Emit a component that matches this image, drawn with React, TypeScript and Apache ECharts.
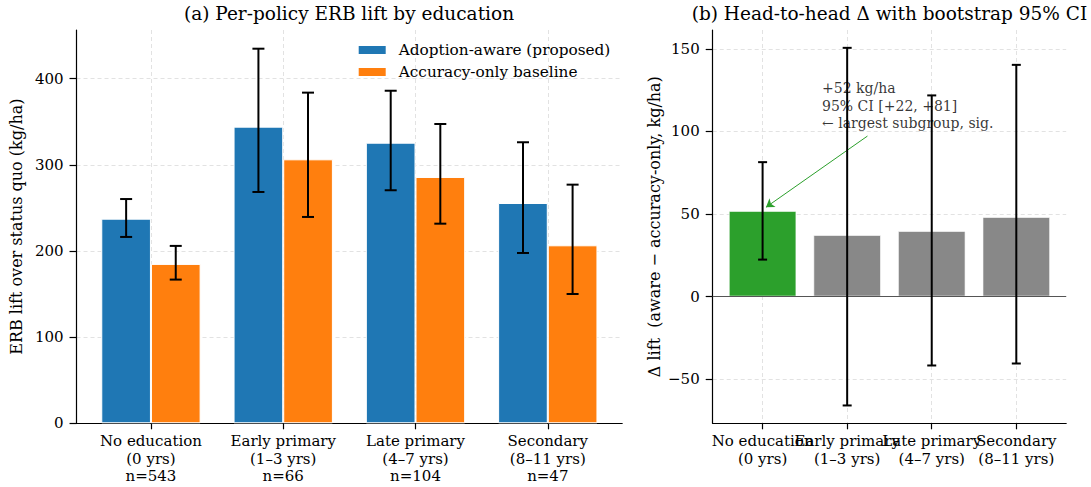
import React, { useEffect, useRef } from 'react';
import * as echarts from 'echarts';

// ---------- data ----------
const leftCategories = ['No education\n(0 yrs)\nn=543', 'Early primary\n(1–3 yrs)\nn=66', 'Late primary\n(4–7 yrs)\nn=104', 'Secondary\n(8–11 yrs)\nn=47'];
const rightCategories = ['No education\n(0 yrs)', 'Early primary\n(1–3 yrs)', 'Late primary\n(4–7 yrs)', 'Secondary\n(8–11 yrs)'];
const categoryIndex = [0, 1, 2, 3];
const evenIndex = [0, 2];
const oddIndex = [1, 3];

const awareLift = [237.5, 344.3, 325.7, 255.7];
const awareLo = [216.3, 268.5, 270.5, 197.7];
const awareHi = [260.3, 434.8, 386.0, 326.2];
const baselineLift = [185.0, 306.4, 285.9, 206.6];
const baselineLo = [166.8, 239.5, 231.7, 150.1];
const baselineHi = [205.9, 383.8, 347.4, 277.0];

const deltaLift = [51.9, 37.3, 39.7, 48.2];
const deltaLo = [22.4, -65.9, -41.7, -40.5];
const deltaHi = [81.4, 150.6, 121.8, 140.3];

const leftYTicks = [0, 100, 200, 300, 400];
const rightYTicks = [-50, 0, 50, 100, 150];

const seriesNames = ['Adoption-aware (proposed)', 'Accuracy-only baseline'];
const annotationAnchor = [0.703, 115.5];
const arrowFrom = [1.24, 97.2];
const arrowTo = [0.04, 54.1];
const annotationLines = [
  `+${Math.round(deltaLift[0])} kg/ha`,
  `95% CI [+${Math.round(deltaLo[0])}, +${Math.round(deltaHi[0])}]`,
  '← largest subgroup, sig.',
];

// ---------- layout / style ----------
const FONT = "'DejaVu Serif', serif";
const L = { left: 75.8, top: 30, width: 546.4, height: 393.3, xmin: -0.5625, xmax: 3.5625, ymin: 0, ymax: 456.5 };
const R = { left: 712.7, top: 30, width: 353.5, height: 393.3, xmin: -0.59, xmax: 3.59, ymin: -76.7, ymax: 161.4 };
const LEFT_BAR_UNITS = 0.375;
const RIGHT_BAR_UNITS = 0.8;
const leftBarPx = (LEFT_BAR_UNITS * L.width) / (L.xmax - L.xmin);
const rightBarPx = (RIGHT_BAR_UNITS * R.width) / (R.xmax - R.xmin);

const gridLine = { show: true, lineStyle: { color: '#e2e2e2', width: 1, type: [4, 3] as any } };
const spine = { show: true, onZero: false, lineStyle: { color: '#000', width: 1.2 } };
const tickStyle = (len: number, custom?: number[]) => ({
  show: true, length: len, customValues: custom, lineStyle: { color: '#000', width: 1.2 },
});
const fmtMinus = (v: number) => (v < 0 ? '\u2212' + Math.abs(v) : String(v));
const labelBase = { color: '#000', fontFamily: FONT, showMinLabel: true, showMaxLabel: true, hideOverlap: false };

function errorRenderer(capHalf: number) {
  return (params: any, api: any) => {
    const x = api.value(0);
    const lo = api.coord([x, api.value(1)]);
    const hi = api.coord([x, api.value(2)]);
    const st = { stroke: '#000', lineWidth: 2 };
    return {
      type: 'group',
      children: [
        { type: 'line', shape: { x1: lo[0], y1: lo[1], x2: hi[0], y2: hi[1] }, style: st },
        { type: 'line', shape: { x1: lo[0] - capHalf, y1: lo[1], x2: lo[0] + capHalf, y2: lo[1] }, style: st },
        { type: 'line', shape: { x1: hi[0] - capHalf, y1: hi[1], x2: hi[0] + capHalf, y2: hi[1] }, style: st },
      ],
    };
  };
}

export default function App() {
  const ref = useRef<HTMLDivElement>(null);
  useEffect(() => {
    const chart = echarts.init(ref.current!, null, { renderer: 'svg' });
    const off = LEFT_BAR_UNITS / 2;
    const leftErr = [
      ...categoryIndex.map((i) => [i - off, awareLo[i], awareHi[i]]),
      ...categoryIndex.map((i) => [i + off, baselineLo[i], baselineHi[i]]),
    ];
    const rightErr = categoryIndex.map((i) => [i, deltaLo[i], deltaHi[i]]);
    const rightLabel = (custom: number[]) => ({
      ...labelBase, customValues: custom, formatter: (v: number) => rightCategories[Math.round(v)],
      fontSize: 15, lineHeight: 17.5, margin: 9,
    });

    const option: any = {
      animation: false,
      backgroundColor: '#fff',
      textStyle: { fontFamily: FONT },
      graphic: [
        { type: 'text', x: L.left + L.width / 2, y: 13.5, style: { text: '(a) Per-policy ERB lift by education', align: 'center', verticalAlign: 'middle', fontSize: 18.5, fontFamily: FONT, fill: '#000' } },
        { type: 'text', x: R.left + R.width / 2, y: 13.5, style: { text: '(b) Head-to-head Δ with bootstrap 95% CI', align: 'center', verticalAlign: 'middle', fontSize: 18.5, fontFamily: FONT, fill: '#000' } },
      ],
      legend: {
        data: seriesNames,
        orient: 'vertical',
        left: 356.7,
        top: 42,
        padding: 0,
        itemWidth: 29,
        itemHeight: 10,
        itemGap: 6,
        icon: 'rect',
        textStyle: { fontSize: 15.3, lineHeight: 16, fontFamily: FONT, color: '#000', padding: [0, 0, 0, 7] },
      },
      grid: [
        { left: L.left, top: L.top, width: L.width, height: L.height },
        { left: R.left, top: R.top, width: R.width, height: R.height },
      ],
      xAxis: [
        {
          type: 'value', gridIndex: 0, position: 'bottom', min: L.xmin, max: L.xmax,
          axisLine: spine, axisTick: tickStyle(6, categoryIndex),
          axisLabel: { ...labelBase, customValues: categoryIndex, formatter: (v: number) => leftCategories[Math.round(v)], fontSize: 15, lineHeight: 17.5, margin: 9 },
          splitLine: gridLine,
        },
        {
          type: 'value', gridIndex: 1, position: 'bottom', min: R.xmin, max: R.xmax,
          axisLine: spine, axisTick: tickStyle(6, categoryIndex),
          axisLabel: rightLabel(evenIndex),
          splitLine: gridLine,
        },
        {
          type: 'value', gridIndex: 1, position: 'bottom', offset: 0, min: R.xmin, max: R.xmax,
          axisLine: { show: false }, axisTick: { show: false, customValues: oddIndex },
          axisLabel: rightLabel(oddIndex),
          splitLine: { show: false },
        },
      ],
      yAxis: [
        {
          type: 'value', gridIndex: 0, min: L.ymin, max: L.ymax,
          axisLine: spine, axisTick: tickStyle(7, leftYTicks),
          axisLabel: { ...labelBase, customValues: leftYTicks, fontSize: 15, margin: 13 },
          splitLine: gridLine,
          name: 'ERB lift over status quo (kg/ha)', nameLocation: 'middle', nameGap: 49,
          nameTextStyle: { fontSize: 16, color: '#000', fontFamily: FONT },
        },
        {
          type: 'value', gridIndex: 1, min: R.ymin, max: R.ymax,
          axisLine: spine, axisTick: tickStyle(7, rightYTicks),
          axisLabel: { ...labelBase, customValues: rightYTicks, formatter: fmtMinus, fontSize: 15, margin: 13 },
          splitLine: gridLine,
          name: 'Δ lift  (aware − accuracy-only, kg/ha)', nameLocation: 'middle', nameGap: 50,
          nameTextStyle: { fontSize: 16, color: '#000', fontFamily: FONT },
        },
      ],
      series: [
        {
          type: 'bar', name: seriesNames[0], xAxisIndex: 0, yAxisIndex: 0,
          data: categoryIndex.map((i) => [i, awareLift[i]]),
          barWidth: leftBarPx, barGap: '0%',
          itemStyle: { color: '#1f77b4', borderColor: '#fff', borderWidth: 1 },
        },
        {
          type: 'bar', name: seriesNames[1], xAxisIndex: 0, yAxisIndex: 0,
          data: categoryIndex.map((i) => [i, baselineLift[i]]),
          barWidth: leftBarPx, barGap: '0%',
          itemStyle: { color: '#ff7f0e', borderColor: '#fff', borderWidth: 1 },
        },
        {
          type: 'custom', xAxisIndex: 0, yAxisIndex: 0, data: leftErr,
          encode: { x: 0, y: [1, 2] }, renderItem: errorRenderer(6), z: 5, silent: true,
        },
        {
          type: 'bar', xAxisIndex: 1, yAxisIndex: 1,
          data: categoryIndex.map((i) => ({ value: [i, deltaLift[i]], itemStyle: { color: i === 0 ? '#2ca02c' : '#888888' } })),
          barWidth: rightBarPx,
          itemStyle: { borderColor: 'rgba(255,255,255,0.6)', borderWidth: 1 },
          markLine: {
            silent: true, symbol: ['none', 'none'], label: { show: false },
            lineStyle: { color: '#555', width: 1.2, type: 'solid' },
            data: [{ yAxis: 0 }],
          },
        },
        {
          type: 'scatter', xAxisIndex: 1, yAxisIndex: 1, z: 1, silent: true,
          data: [annotationAnchor], symbolSize: 1, itemStyle: { color: 'rgba(0,0,0,0)' },
          label: {
            show: true, position: 'inside', align: 'left', verticalAlign: 'middle',
            formatter: annotationLines.join('\n'), fontSize: 14, lineHeight: 17.5, color: '#000', fontFamily: FONT,
          },
          markLine: {
            silent: true, symbol: ['none', 'arrow'], symbolSize: 8, label: { show: false },
            lineStyle: { color: '#2ca02c', width: 1, type: 'solid' },
            data: [[{ coord: arrowFrom }, { coord: arrowTo }]],
          },
        },
        {
          type: 'custom', xAxisIndex: 1, yAxisIndex: 1, data: rightErr,
          encode: { x: 0, y: [1, 2] }, renderItem: errorRenderer(4.5), z: 5, silent: true,
        },
      ],
    };
    chart.setOption(option);
    return () => chart.dispose();
  }, []);
  return <div ref={ref} style={{ position: 'fixed', left: 0, top: 0, width: 1091, height: 487 }} />;
}
